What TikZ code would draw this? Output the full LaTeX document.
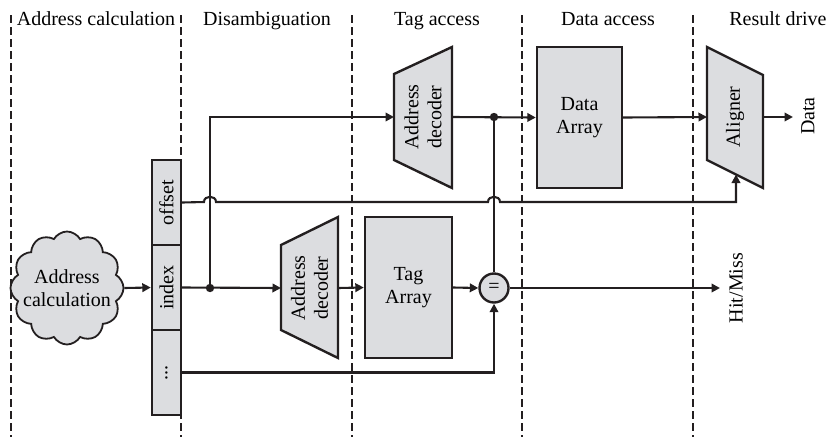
\documentclass[tikz,border=0pt]{standalone}
\usepackage{fontspec}
\setmainfont{Liberation Serif}
\usetikzlibrary{arrows.meta,shapes.symbols,calc}
\definecolor{boxgray}{RGB}{220,221,224}
\definecolor{ink}{RGB}{35,31,32}
\begin{document}
\begin{tikzpicture}[x=1pt,y=-1pt,
  font=\fontsize{20}{23}\selectfont,
  phase/.style={draw=ink, line width=1.1pt, dash pattern=on 7.5pt off 4.5pt},
  blk/.style={draw=ink, fill=boxgray, line width=2.4pt, inner sep=0pt},
  wire/.style={draw=ink, line width=2.1pt},
  arr/.style={wire, -{Triangle[length=8.5pt,width=8.5pt]}},
  lbl/.style={anchor=base, inner sep=0pt},
  rlbl/.style={rotate=90, align=center, inner sep=0pt}]
\useasboundingbox (0,0) rectangle (829,437);

% phase separators
\draw[phase] (11,15) -- (11,437);
\draw[phase] (181,15) -- (181,437);
\draw[phase] (352,15) -- (352,437);
\draw[phase] (522,15) -- (522,437);
\draw[phase] (693,15) -- (693,437);

% phase labels
\node[lbl] (p1) at (96,25) {Address calculation};
\node[lbl] (p2) at (267,25) {Disambiguation};
\node[lbl] (p3) at (437,25) {Tag access};
\node[lbl] (p4) at (608,25) {Data access};
\node[lbl] (p5) at (778,25) {Result drive};

% address calculation cloud
\node[cloud, cloud puffs=12, cloud puff arc=120, aspect=1, draw=ink, fill=boxgray,
      line width=1.8pt, minimum width=113pt, minimum height=113pt, inner sep=0pt] (cloud) at (67,288) {};
\node[align=center, inner sep=0pt] (cloudt) at (67,288) {Address\\calculation};

% address fields
\node[blk, minimum width=29pt, minimum height=85pt] (off) at (166.5,202.5) {\rotatebox{90}{offset}};
\node[blk, minimum width=29pt, minimum height=85pt] (idx) at (166.5,287.5) {\rotatebox{90}{index}};
\node[blk, minimum width=29pt, minimum height=85pt] (dots) at (166.5,372.5) {\rotatebox{90}{...}};

% top address decoder
\draw[blk] (394,74) -- (452,47) -- (452,188) -- (394,160) -- cycle;
\node[rlbl] (dec1) at (423,117) {Address\\decoder};
\coordinate (dec1l) at (394,117);
\coordinate (dec1r) at (452,117);

% bottom address decoder
\draw[blk] (281,245) -- (338,217) -- (338,358) -- (281,330) -- cycle;
\node[rlbl] (dec2) at (309.5,288) {Address\\decoder};
\coordinate (dec2l) at (281,288);
\coordinate (dec2r) at (338,288);

% arrays
\node[blk, minimum width=87pt, minimum height=141pt, align=center] (tag) at (408.5,287.5) {Tag\\Array};
\node[blk, minimum width=85pt, minimum height=141pt, align=center] (data) at (579.5,117.5) {Data\\Array};

% aligner
\draw[blk] (707,47) -- (763,75) -- (763,188) -- (707,160) -- cycle;
\node[rlbl] (alg) at (735,117) {Aligner};
\coordinate (algl) at (707,117);
\coordinate (algr) at (763,117);
\coordinate (algb) at (736,174.5);

% comparator
\node[circle, draw=ink, fill=boxgray, line width=2.4pt, minimum size=29pt, inner sep=0pt] (eq) at (494,288) {=};

% junctions and free ends
\coordinate (j1) at (210,288);
\coordinate (j2) at (494,117);
\coordinate (hmend) at (720,288);
\coordinate (dend) at (793,117);
\fill[ink] (j1) circle (4.2pt);
\fill[ink] (j2) circle (4.2pt);

% outputs labels
\node[rlbl] (hm) at (736,288) {Hit/Miss};
\node[rlbl] (dl) at (808,116) {Data};

% connectors
\draw[arr] (cloud.east) -- (idx.west);
\draw[arr] (idx.east) -- (dec2l);
\draw[arr] (j1) |- (dec1l);
\draw[arr] (dec2r) -- (tag.west);
\draw[arr] (tag.east) -- (eq.west);
\draw[arr] (eq.east) -- (hmend);
\draw[arr] (dots.east) -| (eq.south);
\draw[arr] (dec1r) -- (data.west);
\draw[wire] (j2) -- (eq.north);
\draw[arr] (data.east) -- (algl);
\draw[arr] (algr) -- (dend);
\draw[arr] (off.east) -- (204,202) .. controls (204,195) and (216,195) .. (216,202)
   -- (488,202) .. controls (488,195) and (500,195) .. (500,202)
   -- (736,202) -- (algb);
\end{tikzpicture}
\end{document}
